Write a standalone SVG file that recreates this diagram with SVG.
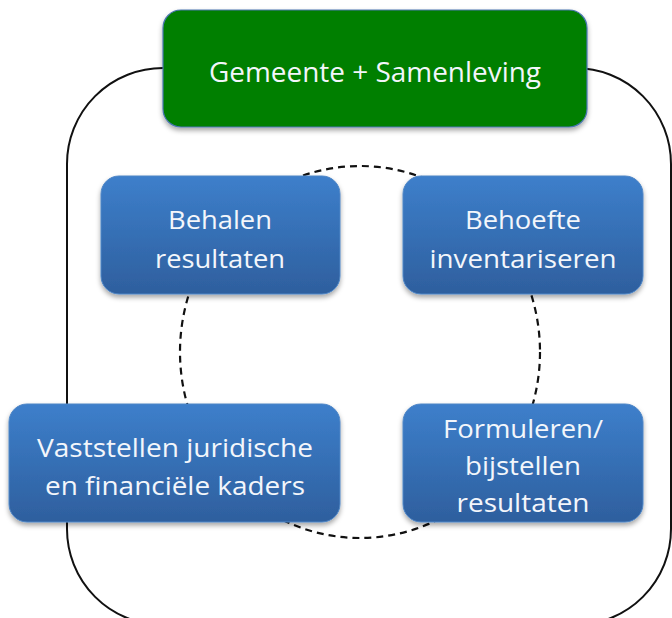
<svg xmlns="http://www.w3.org/2000/svg" width="672" height="618" viewBox="0 0 672 618">
<defs>
<linearGradient id="blue" x1="0" y1="0" x2="0" y2="1">
<stop offset="0" stop-color="#3D7FCB"/>
<stop offset="1" stop-color="#2E5F9E"/>
</linearGradient>
<filter id="sh" x="-10%" y="-10%" width="120%" height="130%">
<feDropShadow dx="0" dy="3" stdDeviation="2.5" flood-color="#000" flood-opacity="0.35"/>
</filter>
<style>
.box{fill:url(#blue);stroke:#4F86C6;stroke-width:1;filter:url(#sh)}
.green{fill:#007F00;stroke:#4A76B0;stroke-width:1.2;filter:url(#sh)}
.t{font-family:"Open Sans","Noto Sans",sans-serif;fill:#F3F6FB;text-anchor:middle}
.b{font-size:26px}
.g{font-size:28px}
.line{fill:none;stroke:#111;stroke-width:2}
.dash{fill:none;stroke:#111;stroke-width:2.2;stroke-dasharray:7 5}
</style>
</defs>
<g id="connectors">
<rect class="line" x="67" y="68" width="604" height="557" rx="96" ry="96"/>
<ellipse class="dash" cx="360" cy="352" rx="180" ry="186"/>
</g>
<g id="gemeente">
<rect class="green" x="163" y="10" width="424" height="117" rx="18"/>
<text class="t g" x="375" y="82" textLength="332" lengthAdjust="spacingAndGlyphs">Gemeente + Samenleving</text>
</g>
<g id="behalen">
<rect class="box" x="101" y="176" width="239" height="118" rx="18"/>
<text class="t b" x="220" y="229" textLength="104" lengthAdjust="spacingAndGlyphs">Behalen</text>
<text class="t b" x="220" y="268" textLength="130" lengthAdjust="spacingAndGlyphs">resultaten</text>
</g>
<g id="behoefte">
<rect class="box" x="403" y="176" width="240" height="118" rx="18"/>
<text class="t b" x="523" y="229" textLength="116" lengthAdjust="spacingAndGlyphs">Behoefte</text>
<text class="t b" x="523" y="268" textLength="187" lengthAdjust="spacingAndGlyphs">inventariseren</text>
</g>
<g id="vaststellen">
<rect class="box" x="9" y="404" width="331" height="118" rx="18"/>
<text class="t b" x="175" y="457" textLength="276" lengthAdjust="spacingAndGlyphs">Vaststellen juridische</text>
<text class="t b" x="175" y="495" textLength="260" lengthAdjust="spacingAndGlyphs">en financiële kaders</text>
</g>
<g id="formuleren">
<rect class="box" x="403" y="404" width="240" height="118" rx="18"/>
<text class="t b" x="523" y="438" textLength="160" lengthAdjust="spacingAndGlyphs">Formuleren/</text>
<text class="t b" x="523" y="475" textLength="116" lengthAdjust="spacingAndGlyphs">bijstellen</text>
<text class="t b" x="523" y="512" textLength="133" lengthAdjust="spacingAndGlyphs">resultaten</text>
</g>
</svg>
